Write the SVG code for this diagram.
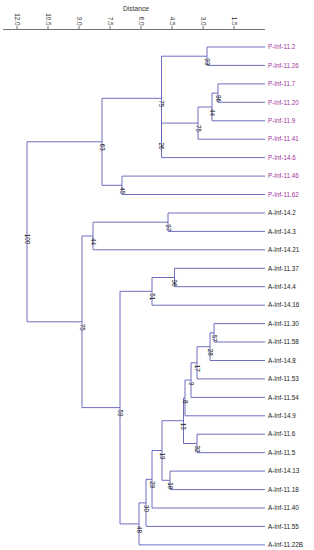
<svg xmlns="http://www.w3.org/2000/svg" width="314" height="550" viewBox="0 0 314 550">
<style>
text{font-family:"Liberation Sans",Arial,sans-serif;font-size:6.3px}
.p{fill:#a2349a}
.a{fill:#222}
.bs{fill:#111}
.ax{fill:#333}
.conn path{fill:none;stroke:#5d5db9;stroke-width:0.9}
#axis line{stroke:#707070;stroke-width:1}
</style>
<rect width="314" height="550" fill="#fff"/>
<g id="axis">
<text x="136" y="11" text-anchor="middle" class="ax" style="font-size:6.7px">Distance</text>
<line x1="3" y1="29.5" x2="265" y2="29.5"/>
<line x1="17" y1="26" x2="17" y2="29.5"/>
<line x1="48" y1="26" x2="48" y2="29.5"/>
<line x1="79" y1="26" x2="79" y2="29.5"/>
<line x1="110" y1="26" x2="110" y2="29.5"/>
<line x1="141" y1="26" x2="141" y2="29.5"/>
<line x1="172" y1="26" x2="172" y2="29.5"/>
<line x1="203" y1="26" x2="203" y2="29.5"/>
<line x1="234" y1="26" x2="234" y2="29.5"/>
<text class="ax" text-anchor="end" transform="translate(14.8 25.5) rotate(90)">12.0</text>
<text class="ax" text-anchor="end" transform="translate(45.8 25.5) rotate(90)">10.5</text>
<text class="ax" text-anchor="end" transform="translate(76.8 25.5) rotate(90)">9.0</text>
<text class="ax" text-anchor="end" transform="translate(107.8 25.5) rotate(90)">7.5</text>
<text class="ax" text-anchor="end" transform="translate(138.8 25.5) rotate(90)">6.0</text>
<text class="ax" text-anchor="end" transform="translate(169.8 25.5) rotate(90)">4.5</text>
<text class="ax" text-anchor="end" transform="translate(200.8 25.5) rotate(90)">3.0</text>
<text class="ax" text-anchor="end" transform="translate(231.8 25.5) rotate(90)">1.5</text>
</g>
<g id="connectors" class="conn">
<path d="M265 47 H207 V65.4 H265"/>
<path d="M265 83.9 H218 V102.3 H265"/>
<path d="M218 93.1 H212 V120.8 H265"/>
<path d="M212 107 H198 V139.2 H265"/>
<path d="M198 123.1 H161.5 V157.6 H265"/>
<path d="M207 56.2 H161.5 V140.4"/>
<path d="M265 176.1 H122 V194.5 H265"/>
<path d="M161.5 98.3 H102 V185.3 H122"/>
<path d="M265 213 H168 V231.4 H265"/>
<path d="M168 222.2 H93 V249.8 H265"/>
<path d="M265 268.3 H174.5 V286.7 H265"/>
<path d="M174.5 277.5 H152 V305.2 H265"/>
<path d="M265 323.6 H214 V342 H265"/>
<path d="M214 332.8 H210 V360.5 H265"/>
<path d="M210 346.7 H197 V378.9 H265"/>
<path d="M197 362.8 H191 V397.4 H265"/>
<path d="M191 380.1 H185 V415.8 H265"/>
<path d="M265 434.2 H197 V452.7 H265"/>
<path d="M185 398 H183.5 V443.5 H197"/>
<path d="M265 471.1 H170 V489.6 H265"/>
<path d="M183.5 420.7 H162 V480.3 H170"/>
<path d="M162 450.5 H152 V508 H265"/>
<path d="M152 479.3 H146 V526.4 H265"/>
<path d="M146 502.9 H139 V544.9 H265"/>
<path d="M152 291.3 H120 V523.9 H139"/>
<path d="M93 236 H82 V407.6 H120"/>
<path d="M102 141.8 H27 V321.8 H82"/>
</g>
<g id="leaves">
<g id="leaf-P-Inf-11.2"><text class="p" x="268" y="49.2">P-Inf-11.2</text></g>
<g id="leaf-P-Inf-11.26"><text class="p" x="268" y="67.6">P-Inf-11.26</text></g>
<g id="leaf-P-Inf-11.7"><text class="p" x="268" y="86.1">P-Inf-11.7</text></g>
<g id="leaf-P-Inf-11.20"><text class="p" x="268" y="104.5">P-Inf-11.20</text></g>
<g id="leaf-P-Inf-11.9"><text class="p" x="268" y="123">P-Inf-11.9</text></g>
<g id="leaf-P-Inf-11.41"><text class="p" x="268" y="141.4">P-Inf-11.41</text></g>
<g id="leaf-P-Inf-14.6"><text class="p" x="268" y="159.8">P-Inf-14.6</text></g>
<g id="leaf-P-Inf-11.46"><text class="p" x="268" y="178.3">P-Inf-11.46</text></g>
<g id="leaf-P-Inf-11.62"><text class="p" x="268" y="196.7">P-Inf-11.62</text></g>
<g id="leaf-A-Inf-14.2"><text class="a" x="268" y="215.2">A-Inf-14.2</text></g>
<g id="leaf-A-Inf-14.3"><text class="a" x="268" y="233.6">A-Inf-14.3</text></g>
<g id="leaf-A-Inf-14.21"><text class="a" x="268" y="252">A-Inf-14.21</text></g>
<g id="leaf-A-Inf-11.37"><text class="a" x="268" y="270.5">A-Inf-11.37</text></g>
<g id="leaf-A-Inf-14.4"><text class="a" x="268" y="288.9">A-Inf-14.4</text></g>
<g id="leaf-A-Inf-14.16"><text class="a" x="268" y="307.4">A-Inf-14.16</text></g>
<g id="leaf-A-Inf-11.30"><text class="a" x="268" y="325.8">A-Inf-11.30</text></g>
<g id="leaf-A-Inf-11.58"><text class="a" x="268" y="344.2">A-Inf-11.58</text></g>
<g id="leaf-A-Inf-14.8"><text class="a" x="268" y="362.7">A-Inf-14.8</text></g>
<g id="leaf-A-Inf-11.53"><text class="a" x="268" y="381.1">A-Inf-11.53</text></g>
<g id="leaf-A-Inf-11.54"><text class="a" x="268" y="399.6">A-Inf-11.54</text></g>
<g id="leaf-A-Inf-14.9"><text class="a" x="268" y="418">A-Inf-14.9</text></g>
<g id="leaf-A-Inf-11.6"><text class="a" x="268" y="436.4">A-Inf-11.6</text></g>
<g id="leaf-A-Inf-11.5"><text class="a" x="268" y="454.9">A-Inf-11.5</text></g>
<g id="leaf-A-Inf-14.13"><text class="a" x="268" y="473.3">A-Inf-14.13</text></g>
<g id="leaf-A-Inf-11.18"><text class="a" x="268" y="491.8">A-Inf-11.18</text></g>
<g id="leaf-A-Inf-11.40"><text class="a" x="268" y="510.2">A-Inf-11.40</text></g>
<g id="leaf-A-Inf-11.55"><text class="a" x="268" y="528.6">A-Inf-11.55</text></g>
<g id="leaf-A-Inf-11.22B"><text class="a" x="268" y="547.1">A-Inf-11.22B</text></g>
</g>
<g id="internal-nodes" class="bs">
<g id="n93"><text transform="translate(204.8 58.2) rotate(90)">93</text></g>
<g id="n96a"><text transform="translate(215.8 95.1) rotate(90)">96</text></g>
<g id="n44a"><text transform="translate(209.8 109) rotate(90)">44</text></g>
<g id="n75b"><text transform="translate(195.8 125.1) rotate(90)">75</text></g>
<g id="n26"><text transform="translate(159.3 142.4) rotate(90)">26</text></g>
<g id="n75a"><text transform="translate(159.3 100.3) rotate(90)">75</text></g>
<g id="n45"><text transform="translate(119.8 187.3) rotate(90)">45</text></g>
<g id="n63"><text transform="translate(99.8 143.8) rotate(90)">63</text></g>
<g id="n97"><text transform="translate(165.8 224.2) rotate(90)">97</text></g>
<g id="n44b"><text transform="translate(90.8 238) rotate(90)">44</text></g>
<g id="n96b"><text transform="translate(172.3 279.5) rotate(90)">96</text></g>
<g id="n51"><text transform="translate(149.8 293.3) rotate(90)">51</text></g>
<g id="n57"><text transform="translate(211.8 334.8) rotate(90)">57</text></g>
<g id="n28"><text transform="translate(207.8 348.7) rotate(90)">28</text></g>
<g id="n17"><text transform="translate(194.8 364.8) rotate(90)">17</text></g>
<g id="n9"><text transform="translate(188.8 382.1) rotate(90)">9</text></g>
<g id="n8"><text transform="translate(182.8 400) rotate(90)">8</text></g>
<g id="n32"><text transform="translate(194.8 445.5) rotate(90)">32</text></g>
<g id="n13"><text transform="translate(181.3 422.7) rotate(90)">13</text></g>
<g id="n18"><text transform="translate(167.8 482.3) rotate(90)">18</text></g>
<g id="n19"><text transform="translate(159.8 452.5) rotate(90)">19</text></g>
<g id="n29"><text transform="translate(149.8 481.3) rotate(90)">29</text></g>
<g id="n30"><text transform="translate(143.8 504.9) rotate(90)">30</text></g>
<g id="n48"><text transform="translate(136.8 525.9) rotate(90)">48</text></g>
<g id="n59"><text transform="translate(117.8 409.6) rotate(90)">59</text></g>
<g id="n75c"><text transform="translate(79.8 323.8) rotate(90)">75</text></g>
<g id="n100"><text transform="translate(24.8 233.8) rotate(90)">100</text></g>
</g>
</svg>
